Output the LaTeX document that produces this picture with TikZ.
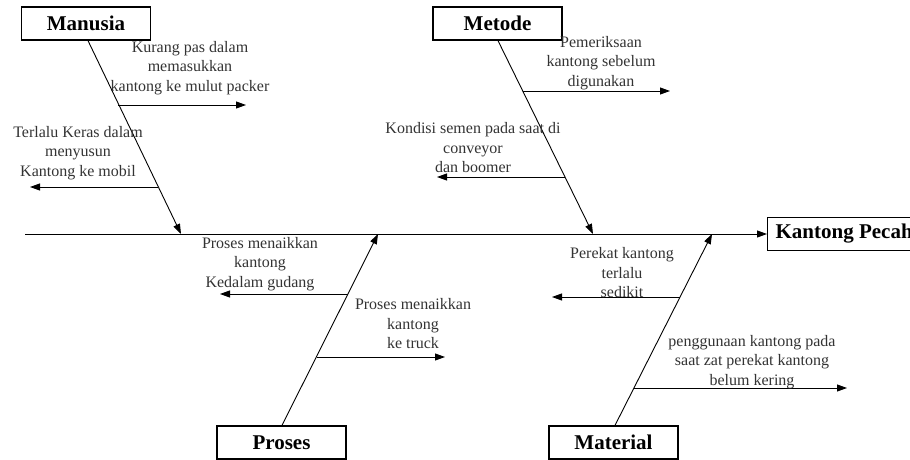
\documentclass[tikz,border=0pt]{standalone}
\usepackage{fontspec}
\setmainfont{Liberation Serif}
\usetikzlibrary{arrows.meta}
\tikzset{
  catbox/.style={draw, line width=1.3pt, minimum width=129pt, minimum height=33pt, inner sep=0pt,
    font=\fontsize{21}{24}\selectfont\bfseries},
  effbox/.style={catbox, anchor=west, minimum width=0pt, inner xsep=8pt},
  causetext/.style={align=center, inner sep=0pt, text=black!80, font=\fontsize{16}{19.5}\selectfont},
  bone/.style={line width=0.9pt, -{Triangle[length=10pt,width=7pt]}},
}
\begin{document}
\begin{tikzpicture}[x=1pt, y=-1pt]
  \clip (0,0) rectangle (910,460);
  \coordinate (tail) at (25,234);
  \node[effbox] (eff) at (767,234) {Kantong Pecah};
  \draw[bone] (tail) -- (eff);
  \foreach \nm/\lbl/\bx/\by/\side/\dx/\tx in {
    man/Manusia/86/23.5/south/2/181, met/Metode/497.5/23.5/south/0.5/593,
    pro/Proses/281.5/442.5/north/0.5/378, mat/Material/613.5/442.5/north/1.5/712} {
    \node[catbox] (\nm) at (\bx,\by) {\lbl};
    \coordinate (\nm-tip) at (\tx,234);
    \draw[bone] ([xshift=\dx pt]\nm.\side) -- (\nm-tip);
  }
  \foreach \nm/\sx/\sy/\ex in {
    man1/118/105/246, man2/158/187/30,
    met1/523/91/670, met2/565/177/437,
    pro1/348/294/220, pro2/317/357/445,
    mat1/680/297/552, mat2/634/388/847} {
    \coordinate (\nm-a) at (\sx,\sy);
    \coordinate (\nm-b) at (\ex,\sy);
    \draw[bone] (\nm-a) -- (\nm-b);
  }
  \node[causetext] (t-man1) at (190,68) {Kurang pas dalam\\memasukkan\\kantong ke mulut packer};
  \node[causetext] (t-man2) at (78,153) {Terlalu Keras dalam\\menyusun\\Kantong ke mobil};
  \node[causetext] (t-met1) at (601,63) {Pemeriksaan\\kantong sebelum\\digunakan};
  \node[causetext] (t-met2) at (473,148) {Kondisi semen pada saat di\\conveyor\\dan boomer};
  \node[causetext] (t-pro1) at (260,264) {Proses menaikkan\\kantong\\Kedalam gudang};
  \node[causetext] (t-pro2) at (413,324) {Proses menaikkan\\kantong\\ke truck};
  \node[causetext] (t-mat1) at (622,273) {Perekat kantong\\terlalu\\sedikit};
  \node[causetext] (t-mat2) at (752,362) {penggunaan kantong pada\\saat zat perekat kantong\\belum kering};
\end{tikzpicture}
\end{document}
